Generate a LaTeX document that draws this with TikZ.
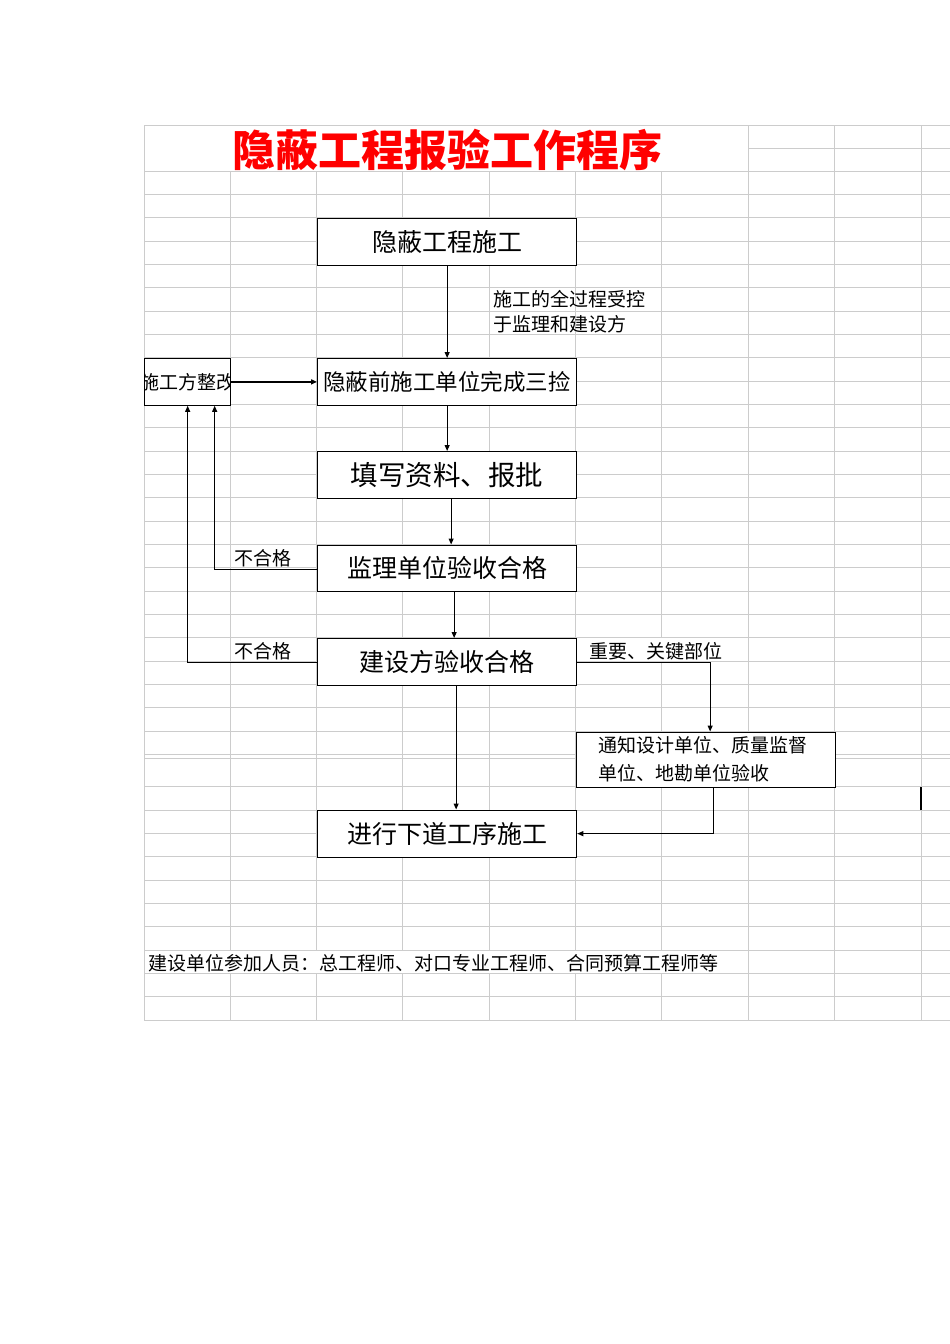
\documentclass[tikz,border=0pt]{standalone}
\usepackage{fontspec}
\setmainfont{Noto Sans CJK SC}
\usetikzlibrary{arrows.meta}
\definecolor{gridgray}{RGB}{204,204,204}
\begin{document}
\begin{tikzpicture}[x=1pt,y=-1pt,
  gridline/.style={draw=gridgray, line width=1pt},
  box/.style={draw=black, line width=1.3pt, fill=white, inner sep=0pt, anchor=north west, minimum width=259},
  arr/.style={-{Triangle[length=6pt,width=5pt]}, line width=1pt},
  lbl/.style={font=\fontsize{19}{25}\selectfont, inner sep=0pt, anchor=west},
  bigtext/.style={font=\fontsize{25}{30}\selectfont}
]
\useasboundingbox[fill=white] (0,0) rectangle (950,1344);
% ---- grid ----
\foreach \k in {1,...,6} \draw[gridline] ({144+86.33*\k},171) -- ({144+86.33*\k},1020);
\foreach \x in {144,748.3,834.7,921} \draw[gridline] (\x,125) -- (\x,1020);
\draw[gridline] (144,125) -- (950,125);
\draw[gridline] (748.3,148) -- (950,148);
\foreach \k in {0,...,25} \draw[gridline] (144,{171+23.333*\k}) -- (950,{171+23.333*\k});
\draw[gridline] (144,758) -- (950,758);
\foreach \k in {0,...,10} \draw[gridline] (144,{786.7+23.333*\k}) -- (950,{786.7+23.333*\k});
% masks where cell text overflows
\fill[white] (145,951) rectangle (747.6,972.6);
\fill[white] (577,638.4) rectangle (747.6,660.6);
% ---- title ----
\node[font=\fontsize{43}{46}\selectfont\bfseries, text=red, inner sep=0pt] (title) at (447.5,150) {隐蔽工程报验工作程序};
% ---- boxes ----
\node[box, minimum height=47, bigtext] (b1) at (317,218) {隐蔽工程施工};
\node[box, minimum height=46.5, font=\fontsize{22.5}{27}\selectfont] (b2) at (317,358) {隐蔽前施工单位完成三捡};
\node[box, minimum height=47, font=\fontsize{27.5}{32}\selectfont] (b3) at (317,451) {填写资料、报批};
\node[box, minimum height=46.5, bigtext] (b4) at (317,544.5) {监理单位验收合格};
\node[box, minimum height=47, bigtext] (b5) at (317,638) {建设方验收合格};
\node[box, minimum height=55, text width=215, inner xsep=22, align=left, font=\fontsize{19}{28}\selectfont] (n) at (576,731.5) {通知设计单位、质量监督\\单位、地勘单位验收};
\node[box, minimum height=47, bigtext] (b6) at (317,809.5) {进行下道工序施工};
\node[box, minimum width=86, minimum height=46.5] (r) at (144,358) {};
\begin{scope}
  \clip ([xshift=0.7pt]r.south west) rectangle ([xshift=-0.7pt]r.north east);
  \node[font=\fontsize{19}{23}\selectfont, inner sep=0pt] (rt) at (r.center) {施工方整改};
\end{scope}
% ---- connectors ----
\draw[arr] (b1.south) -- (b2.north);
\draw[arr] (b2.south) -- (b3.north);
\draw[arr] ([xshift=4pt]b3.south) -- ([xshift=4pt]b4.north);
\draw[arr] ([xshift=7pt]b4.south) -- ([xshift=7pt]b5.north);
\draw[arr] ([xshift=9pt]b5.south) -- ([xshift=9pt]b6.north);
\draw[arr, line width=2pt] (r.east) -- (b2.west);
\draw[arr] ([yshift=-1pt]b4.west) -| ([xshift=27pt]r.south);
\draw[arr] (b5.west) -| (r.south);
\draw[arr] (b5.east) -| ([xshift=4pt]n.north);
\draw[arr] ([xshift=7pt]n.south) |- (b6.east);
% stray mark
\draw[line width=1.2pt] (921,787) -- (921,810);
% ---- labels ----
\node[lbl, align=left] (ctl) at (493,312) {施工的全过程受控\\于监理和建设方};
\node[lbl] (ng1) at (234,558) {不合格};
\node[lbl] (ng2) at (234,651) {不合格};
\node[lbl] (key) at (589,651) {重要、关键部位};
\node[lbl] (staff) at (148,963) {建设单位参加人员：总工程师、对口专业工程师、合同预算工程师等};
\end{tikzpicture}
\end{document}
